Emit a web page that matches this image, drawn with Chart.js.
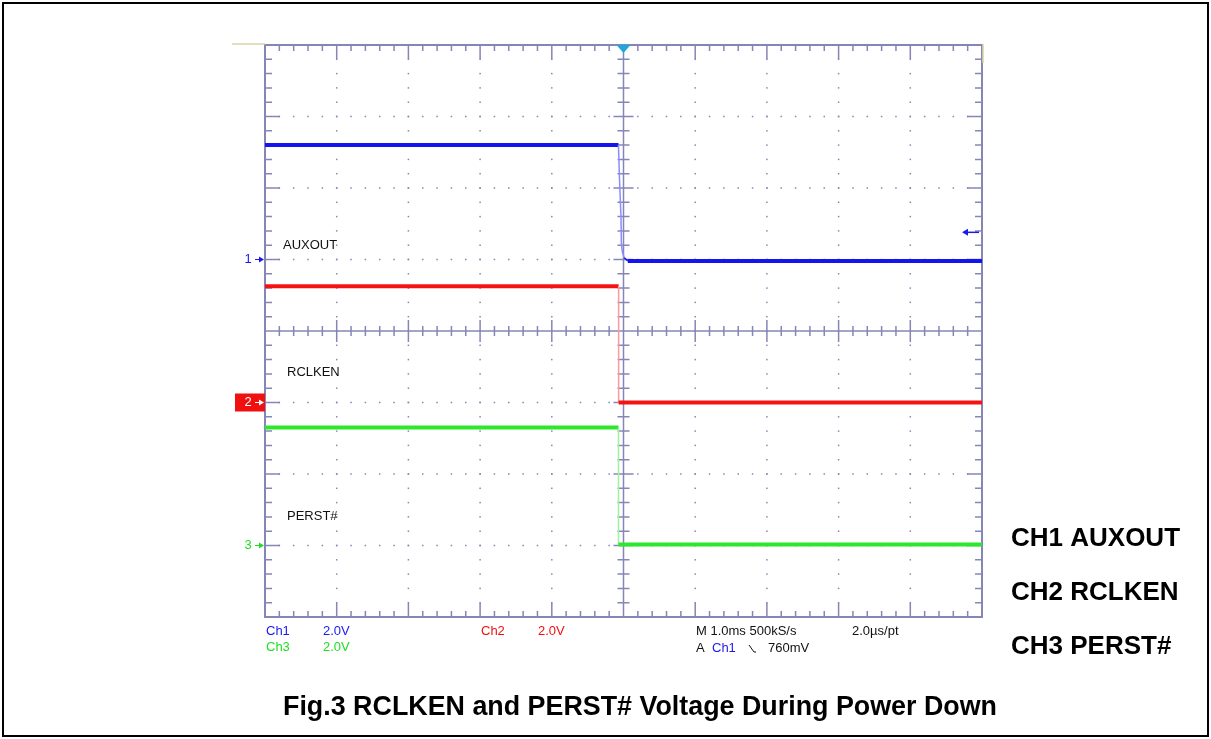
<!DOCTYPE html>
<html>
<head>
<meta charset="utf-8">
<title>Fig.3 RCLKEN and PERST# Voltage During Power Down</title>
<script src="https://cdn.jsdelivr.net/npm/chart.js@4/dist/chart.umd.min.js"></script>
<style>
    html, body { margin: 0; padding: 0; background: #fff; }
    canvas { display: block; }
</style>
</head>
<body>
<canvas id="scope" width="1211" height="739" style="width:1211px;height:739px"></canvas>
<script>
// time in ms (1.0 ms/div, trigger at 0), voltages in V (2.0 V/div)
const ch1Time  = [-5, -0.07, -0.055, -0.035, -0.03, -0.015, 0.01, 0.06, 5];
const ch1Volts = [3.2, 3.2, 2.2, 1.2, 0.45, 0.2, 0.05, -0.04, -0.04];
const ch2Time  = [-5, -0.068, -0.068, 5];
const ch2Volts = [3.25, 3.25, 0.0, 0.0];
const ch3Time  = [-5, -0.07, -0.07, 5];
const ch3Volts = [3.3, 3.3, 0.03, 0.03];

const channelNames = ['AUXOUT', 'RCLKEN', 'PERST#'];
const triggerLevel = 0.76;

const GC = '#8686b6';
const FONT = '"Liberation Sans", Arial, sans-serif';

function points(t, v) {
    return t.map((x, i) => ({ x: x, y: v[i] }));
}

// vertical edges are drawn thin and pale, flat runs thick (noisy trace)
function traceSegment(main, pale) {
    return {
        borderColor: c => Math.abs(c.p1.x - c.p0.x) < Math.abs(c.p1.y - c.p0.y) * 0.5 ? pale : main,
        borderWidth: c => Math.abs(c.p1.x - c.p0.x) < 12 ? 1.5 : 4
    };
}

function txt(ctx, s, x, y, color, font, align) {
    ctx.fillStyle = color;
    ctx.font = font;
    ctx.textAlign = align || 'left';
    ctx.fillText(s, x, y);
}

function marker(ctx, label, y, color, boxed) {
    if (boxed) {
        ctx.fillStyle = color;
        ctx.fillRect(235, y - 9, 30, 18);
        color = '#fff';
    }
    ctx.textBaseline = 'middle';
    txt(ctx, label, 248, y, color, '13px ' + FONT, 'center');
    ctx.strokeStyle = color;
    ctx.fillStyle = color;
    ctx.lineWidth = 1;
    ctx.beginPath();
    ctx.moveTo(255, y);
    ctx.lineTo(261, y);
    ctx.stroke();
    ctx.beginPath();
    ctx.moveTo(264, y);
    ctx.lineTo(259, y - 3);
    ctx.lineTo(259, y + 3);
    ctx.closePath();
    ctx.fill();
}

const graticule = {
    id: 'graticule',
    beforeDatasetsDraw(chart) {
        const { ctx, chartArea: a, scales } = chart;
        const X = v => scales.x.getPixelForValue(v);
        const Y = v => scales.grid.getPixelForValue(v);
        ctx.save();

        // dotted division lines
        ctx.fillStyle = GC;
        for (let k = -4; k <= 4; k++) {
            if (k === 0) continue;
            for (let i = -19; i <= 19; i++) ctx.fillRect(X(k) - 0.75, Y(i / 5) - 0.75, 1.5, 1.5);
        }
        for (let j = -3; j <= 3; j++) {
            if (j === 0) continue;
            for (let i = -24; i <= 24; i++) ctx.fillRect(X(i / 5) - 0.75, Y(j) - 0.75, 1.5, 1.5);
        }

        ctx.strokeStyle = GC;
        ctx.lineWidth = 1.5;
        ctx.beginPath();
        // centre cross
        ctx.moveTo(X(0), a.top); ctx.lineTo(X(0), a.bottom);
        ctx.moveTo(a.left, Y(0)); ctx.lineTo(a.right, Y(0));
        for (let i = -24; i <= 24; i++) {
            const x = X(i / 5);
            const c = i % 5 === 0 ? 11 : 5;
            ctx.moveTo(x, Y(0) - c); ctx.lineTo(x, Y(0) + c);
            const e = i % 5 === 0 ? 14 : 6;
            ctx.moveTo(x, a.top); ctx.lineTo(x, a.top + e);
            ctx.moveTo(x, a.bottom); ctx.lineTo(x, a.bottom - e);
        }
        for (let i = -19; i <= 19; i++) {
            const y = Y(i / 5);
            const c = i % 5 === 0 ? 10 : 6;
            ctx.moveTo(X(0) - c, y); ctx.lineTo(X(0) + c, y);
            const e = i % 5 === 0 ? 15 : 7;
            ctx.moveTo(a.left, y); ctx.lineTo(a.left + e, y);
            ctx.moveTo(a.right, y); ctx.lineTo(a.right - e, y);
        }
        ctx.stroke();

        ctx.lineWidth = 2;
        ctx.strokeRect(a.left, a.top, a.right - a.left, a.bottom - a.top);

        // yellowish edge bits
        ctx.strokeStyle = '#d6d6a6';
        ctx.lineWidth = 1.5;
        ctx.beginPath();
        ctx.moveTo(232, a.top - 1); ctx.lineTo(a.left, a.top - 1);
        ctx.moveTo(a.right + 1, a.top - 1); ctx.lineTo(a.right + 1, a.top + 18);
        ctx.stroke();

        // trace labels
        ctx.textBaseline = 'middle';
        txt(ctx, channelNames[0], 283, 245, '#111', '13px ' + FONT);
        txt(ctx, channelNames[1], 287, 372, '#111', '13px ' + FONT);
        txt(ctx, channelNames[2], 287, 516, '#111', '13px ' + FONT);
        ctx.restore();
    },
    afterDatasetsDraw(chart) {
        const { ctx, chartArea: a, scales } = chart;
        ctx.save();

        // trigger position
        const tx = scales.x.getPixelForValue(0);
        ctx.fillStyle = '#1ea8da';
        ctx.beginPath();
        ctx.moveTo(tx - 7, a.top);
        ctx.lineTo(tx + 7, a.top);
        ctx.lineTo(tx, a.top + 8);
        ctx.closePath();
        ctx.fill();

        // trigger level arrow
        const ty = scales.y1.getPixelForValue(triggerLevel);
        ctx.strokeStyle = '#1a1aee';
        ctx.fillStyle = '#1a1aee';
        ctx.lineWidth = 1.5;
        ctx.beginPath();
        ctx.moveTo(967, ty); ctx.lineTo(979, ty);
        ctx.stroke();
        ctx.beginPath();
        ctx.moveTo(962, ty); ctx.lineTo(968, ty - 3.5); ctx.lineTo(968, ty + 3.5);
        ctx.closePath();
        ctx.fill();

        // channel ground markers
        marker(ctx, '1', scales.y1.getPixelForValue(0), '#1a1aee', false);
        marker(ctx, '2', scales.y2.getPixelForValue(0), '#f01010', true);
        marker(ctx, '3', scales.y3.getPixelForValue(0), '#22dd22', false);

        // readouts
        const f = '13px ' + FONT;
        ctx.textBaseline = 'middle';
        txt(ctx, 'Ch1', 266, 631, '#1a1aee', f);
        txt(ctx, '2.0V', 323, 631, '#1a1aee', f);
        txt(ctx, 'Ch2', 481, 631, '#f01010', f);
        txt(ctx, '2.0V', 538, 631, '#f01010', f);
        txt(ctx, 'Ch3', 266, 647, '#22dd22', f);
        txt(ctx, '2.0V', 323, 647, '#22dd22', f);
        txt(ctx, 'M 1.0ms 500kS/s', 696, 631, '#111', f);
        txt(ctx, '2.0\u00b5s/pt', 852, 631, '#111', f);
        txt(ctx, 'A', 696, 648, '#111', f);
        txt(ctx, 'Ch1', 712, 648, '#1a1aee', f);
        txt(ctx, '760mV', 768, 648, '#111', f);
        ctx.strokeStyle = '#111';
        ctx.lineWidth = 1;
        ctx.beginPath();
        ctx.moveTo(749, 645); ctx.lineTo(754, 652); ctx.lineTo(756, 652);
        ctx.stroke();

        // figure labels
        const b = 'bold 26px ' + FONT;
        ctx.textBaseline = 'alphabetic';
        txt(ctx, 'CH1 ' + channelNames[0], 1011, 546, '#000', b);
        txt(ctx, 'CH2 ' + channelNames[1], 1011, 600, '#000', b);
        txt(ctx, 'CH3 ' + channelNames[2], 1011, 654, '#000', b);
        ctx.fillStyle = '#000';
        ctx.font = 'bold 27px ' + FONT;
        ctx.textAlign = 'center';
        ctx.fillText('Fig.3 RCLKEN and PERST# Voltage During Power Down', 640, 715, 714);

        // page frame
        ctx.strokeStyle = '#000';
        ctx.lineWidth = 2;
        ctx.strokeRect(3, 3, 1205, 733);
        ctx.restore();
    }
};

new Chart(document.getElementById('scope'), {
    type: 'line',
    data: {
        datasets: [{
            label: 'CH1 ' + channelNames[0],
            data: points(ch1Time, ch1Volts),
            yAxisID: 'y1',
            borderColor: '#1414f0',
            segment: traceSegment('#1414f0', '#8c8cff')
        }, {
            label: 'CH2 ' + channelNames[1],
            data: points(ch2Time, ch2Volts),
            yAxisID: 'y2',
            borderColor: '#f41212',
            segment: traceSegment('#f41212', '#ff9a9a')
        }, {
            label: 'CH3 ' + channelNames[2],
            data: points(ch3Time, ch3Volts),
            yAxisID: 'y3',
            borderColor: '#2ce82c',
            segment: traceSegment('#2ce82c', '#9cf59c')
        }]
    },
    options: {
        responsive: false,
        animation: false,
        devicePixelRatio: 1,
        layout: { padding: { left: 265, right: 229, top: 45, bottom: 122 } },
        elements: {
            point: { radius: 0, hoverRadius: 0 },
            line: { tension: 0, borderWidth: 4, borderCapStyle: 'butt' }
        },
        plugins: {
            legend: { display: false },
            tooltip: { enabled: false }
        },
        events: [],
        scales: {
            x: { type: 'linear', min: -5, max: 5, display: false },
            // channel grounds: ch1 +1 div, ch2 -1 div, ch3 -3 div
            y1: { type: 'linear', position: 'left', min: -10, max: 6, display: false },
            y2: { type: 'linear', position: 'left', min: -6, max: 10, display: false },
            y3: { type: 'linear', position: 'left', min: -2, max: 14, display: false },
            grid: { type: 'linear', axis: 'y', position: 'left', min: -4, max: 4, display: false }
        }
    },
    plugins: [graticule]
});
</script>
</body>
</html>
